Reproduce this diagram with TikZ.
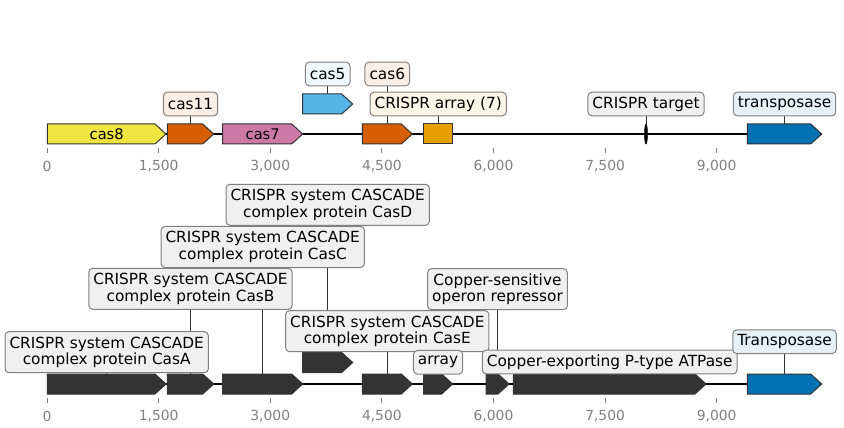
\documentclass[tikz,border=0pt]{standalone}
\usepackage{fontspec}
\setmainfont{DejaVu Sans}
\usetikzlibrary{positioning, backgrounds}
\definecolor{cyellow}{HTML}{F0E442}
\definecolor{corange}{HTML}{D55E00}
\definecolor{cpink}{HTML}{CC79A7}
\definecolor{csky}{HTML}{56B4E9}
\definecolor{camber}{HTML}{E69F00}
\definecolor{cblue}{HTML}{0072B2}
\definecolor{cdark}{HTML}{333333}
\definecolor{tgray}{HTML}{F0F0F0}
\tikzset{
    genebox/.style={draw=black!80, line width=0.75pt, line join=miter},
    genetag/.style={draw=black!50, line width=0.75pt, rounded corners=3pt, align=center, inner xsep=3.4pt, inner ysep=2pt, minimum height=17.8pt, font=\fontsize{11.5}{12.3}\selectfont},
    twoline/.style={minimum height=30.8pt},
    genetext/.style={font=\fontsize{11}{12.3}\selectfont},
    link/.style={line width=0.6pt, black!80},
    backbone/.style={line width=1.5pt, black},
    tickline/.style={gray, line width=0.6pt},
    ticktext/.style={gray, font=\fontsize{10.4}{12.5}\selectfont}
}
% gene arrow: name, start, end, middle y, fill
\newcommand{\genearrow}[5]{%
    \draw[genebox, fill=#5] (#2,#4-10) -- (#3-11,#4-10) -- (#3,#4) -- (#3-11,#4+10) -- (#2,#4+10) -- cycle;
    \coordinate (#1) at ({(#2+#3)/2},#4-10);
}

\begin{document}
\begin{tikzpicture}[x=0.75pt, y=-0.75pt]
    \useasboundingbox (0,0) rectangle (844,428);
    % axes
    \foreach \yy/\tr in {148/t,398/b}
        \foreach \n/\lab in {0/0,1/{1,500},2/{3,000},3/{4,500},4/{6,000},5/{7,500},6/{9,000}} {
            \draw[tickline] (47+111.62*\n,\yy) -- (47+111.62*\n,\yy+5);
            \node[ticktext] (tick\tr\n) at (47+111.62*\n,\yy+18) {\lab};
        }
    % top track
    \genearrow{cas8}{47.3}{166}{134}{cyellow}
    \genearrow{cas11}{167.3}{213.7}{134}{corange}
    \genearrow{cas7}{222.7}{302.7}{134}{cpink}
    \genearrow{cas5}{302.7}{352.7}{104}{csky}
    \genearrow{cas6}{362.3}{412.3}{134}{corange}
    \draw[genebox, fill=camber] (423.7,124) rectangle (452.7,144);
    \coordinate (arr) at (438.2,124);
    \draw[fill=black] (646,134) ellipse [x radius=1.5, y radius=10];
    \coordinate (tgt) at (646,124);
    \genearrow{tnp}{747.3}{821.7}{134}{cblue}
    \node[genetext] (cas8txt) at (106.7,134) {cas8};
    \node[genetext] (cas7txt) at (262.7,134) {cas7};
    \node[genetag, fill=corange!10!white] (cas11tag) at (190.5,104) {cas11};
    \node[genetag, fill=csky!10!white] (cas5tag) at (327.7,74) {cas5};
    \node[genetag, fill=corange!10!white] (cas6tag) at (387.3,74) {cas6};
    \node[genetag, fill=camber!10!white] (arrtag) at (438.2,104) {CRISPR array (7)};
    \node[genetag, fill=tgray] (tgttag) at (646,104) {CRISPR target};
    \node[genetag, fill=cblue!10!white] (tnptag) at (784.5,104) {transposase};
    % bottom track
    \genearrow{casA}{47.3}{166}{384}{cdark}
    \genearrow{casB}{167.3}{213.7}{384}{cdark}
    \genearrow{casC}{222.7}{302.7}{384}{cdark}
    \genearrow{casD}{302.7}{352.7}{362.5}{cdark}
    \genearrow{casE}{362.3}{412.3}{384}{cdark}
    \genearrow{barr}{423.5}{452.7}{384}{cdark}
    \genearrow{csoR}{486}{509}{384}{cdark}
    \genearrow{copA}{513.3}{706}{384}{cdark}
    \genearrow{btnp}{747.3}{821.7}{384}{cblue}
    \node[genetag, twoline, fill=tgray] (casAtag) at (106.7,352.2) {CRISPR system CASCADE\\complex protein CasA};
    \node[genetag, twoline, fill=tgray] (casBtag) at (190.5,288.8) {CRISPR system CASCADE\\complex protein CasB};
    \node[genetag, twoline, fill=tgray] (casCtag) at (262.7,247) {CRISPR system CASCADE\\complex protein CasC};
    \node[genetag, twoline, fill=tgray] (casDtag) at (327.7,204.8) {CRISPR system CASCADE\\complex protein CasD};
    \node[genetag, twoline, fill=tgray] (casEtag) at (387.3,331.2) {CRISPR system CASCADE\\complex protein CasE};
    \node[genetag, fill=tgray] (barrtag) at (438.1,362.3) {array};
    \node[genetag, twoline, fill=tgray] (csoRtag) at (497.5,289.2) {Copper-sensitive\\operon repressor};
    \node[genetag, fill=tgray] (copAtag) at (609.7,362) {Copper-exporting P-type ATPase};
    \node[genetag, fill=cblue!10!white] (btnptag) at (784.5,341.7) {Transposase};
    % backbone and links
    \begin{scope}[on background layer]
        \draw[backbone] (47.3,134) -- (821.7,134);
        \draw[backbone] (47.3,384) -- (821.7,384);
        \draw[link] (cas11tag) -- (cas11);
        \draw[link] (cas5tag) -- (cas5);
        \draw[link] (cas6tag) -- (cas6);
        \draw[link] (arrtag) -- (arr);
        \draw[link] (tgttag) -- (tgt);
        \draw[link] (tnptag) -- (tnp);
        \draw[link] (casAtag) -- (casA);
        \draw[link] (casBtag) -- (casB);
        \draw[link] (casCtag) -- (casC);
        \draw[link] (casDtag) -- (casD);
        \draw[link] (casEtag) -- (casE);
        \draw[link] (barrtag) -- (barr);
        \draw[link] (csoRtag) -- (csoR);
        \draw[link] (copAtag) -- (copA);
        \draw[link] (btnptag) -- (btnp);
    \end{scope}
\end{tikzpicture}
\end{document}
